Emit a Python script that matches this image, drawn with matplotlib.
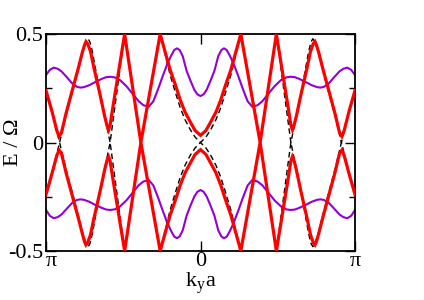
import numpy as np
import matplotlib
matplotlib.use("Agg")
import matplotlib.pyplot as plt

plt.rcParams['font.family'] = ['Liberation Serif', 'DejaVu Serif']
plt.rcParams['mathtext.fontset'] = 'stix'

# k in units of pi, E in units of Omega
red_k = [-1.000, -0.960, -0.930, -0.915, -0.900, -0.870, -0.830, -0.790, -0.765, -0.750, -0.741,
         -0.730, -0.712, -0.690, -0.650, -0.620, -0.605, -0.595, -0.585, -0.570, -0.491, -0.386,
         -0.261, -0.230, -0.196, -0.160, -0.131, -0.100, -0.067, -0.035, 0.000,
         0.035, 0.067, 0.100, 0.131, 0.160, 0.196, 0.230, 0.261, 0.386, 0.491, 0.570, 0.585,
         0.595, 0.605, 0.620, 0.650, 0.690, 0.712, 0.730, 0.741, 0.750, 0.765, 0.790, 0.830,
         0.870, 0.900, 0.915, 0.930, 0.960, 1.000]
red_up = [0.240, 0.140, 0.055, 0.028, 0.045, 0.135, 0.240, 0.345, 0.415, 0.450, 0.465,
          0.455, 0.420, 0.345, 0.220, 0.120, 0.078, 0.058, 0.080, 0.150, 0.500, 0.000,
          0.500, 0.420, 0.334, 0.260, 0.196, 0.140, 0.096, 0.055, 0.033,
          0.055, 0.096, 0.140, 0.196, 0.260, 0.334, 0.420, 0.500, 0.000, 0.500, 0.150, 0.080,
          0.058, 0.078, 0.120, 0.220, 0.345, 0.420, 0.455, 0.465, 0.450, 0.415, 0.345, 0.240,
          0.135, 0.045, 0.028, 0.055, 0.140, 0.240]
red_lo = [-0.240, -0.140, -0.060, -0.035, -0.050, -0.140, -0.245, -0.350, -0.420, -0.458, -0.472,
          -0.462, -0.425, -0.350, -0.225, -0.125, -0.082, -0.065, -0.085, -0.155, -0.500, 0.000,
          -0.500, -0.420, -0.334, -0.260, -0.196, -0.140, -0.096, -0.055, -0.033,
          -0.055, -0.096, -0.140, -0.196, -0.260, -0.334, -0.420, -0.500, 0.000, -0.500, -0.155, -0.085,
          -0.065, -0.082, -0.125, -0.225, -0.350, -0.425, -0.462, -0.472, -0.458, -0.420, -0.350, -0.245,
          -0.140, -0.050, -0.035, -0.060, -0.140, -0.240]

dash_k = [-1.000, -0.960, -0.912, -0.870, -0.830, -0.790, -0.760, -0.740, -0.727, -0.715, -0.700,
          -0.660, -0.620, -0.585, -0.491, -0.386, -0.261, -0.230, -0.196, -0.160, -0.131, -0.100,
          -0.067, -0.035, 0.000,
          0.035, 0.067, 0.100, 0.131, 0.160, 0.196, 0.230, 0.261, 0.386, 0.491, 0.585, 0.620,
          0.660, 0.700, 0.715, 0.727, 0.740, 0.760, 0.790, 0.830, 0.870, 0.912, 0.960, 1.000]
dash_up = [0.240, 0.135, 0.000, 0.125, 0.230, 0.340, 0.425, 0.465, 0.478, 0.462, 0.420,
           0.262, 0.120, 0.000, 0.500, 0.000, 0.500, 0.410, 0.310, 0.225, 0.160, 0.105,
           0.060, 0.025, 0.000,
           0.025, 0.060, 0.105, 0.160, 0.225, 0.310, 0.410, 0.500, 0.000, 0.500, 0.000, 0.120,
           0.262, 0.420, 0.462, 0.478, 0.465, 0.425, 0.340, 0.230, 0.125, 0.000, 0.135, 0.240]
dash_lo = [-0.240, -0.135, 0.000, -0.125, -0.230, -0.340, -0.425, -0.465, -0.480, -0.465, -0.420,
           -0.262, -0.120, 0.000, -0.500, 0.000, -0.500, -0.410, -0.310, -0.225, -0.160, -0.105,
           -0.060, -0.025, 0.000,
           -0.025, -0.060, -0.105, -0.160, -0.225, -0.310, -0.410, -0.500, 0.000, -0.500, 0.000, -0.120,
           -0.262, -0.420, -0.465, -0.480, -0.465, -0.425, -0.340, -0.230, -0.125, 0.000, -0.135, -0.240]

pur_k = [-1.000, -0.975, -0.950, -0.925, -0.900, -0.864, -0.830, -0.800, -0.778, -0.755, -0.720,
         -0.680, -0.640, -0.610, -0.583, -0.555, -0.520, -0.480, -0.440, -0.400, -0.370, -0.335,
         -0.305, -0.275, -0.245, -0.215, -0.190, -0.170, -0.152, -0.135, -0.115, -0.090, -0.065,
         -0.040, -0.020, 0.000,
         0.020, 0.040, 0.065, 0.090, 0.115, 0.135, 0.152, 0.170, 0.190, 0.215, 0.245, 0.275,
         0.305, 0.335, 0.370, 0.400, 0.440, 0.480, 0.520, 0.555, 0.583, 0.610, 0.640, 0.680,
         0.720, 0.755, 0.778, 0.800, 0.830, 0.864, 0.900, 0.925, 0.950, 0.975, 1.000]
pur_up = [0.311, 0.335, 0.345, 0.340, 0.328, 0.300, 0.272, 0.257, 0.253, 0.255, 0.264,
          0.279, 0.293, 0.301, 0.303, 0.300, 0.287, 0.260, 0.225, 0.190, 0.172, 0.165,
          0.190, 0.245, 0.305, 0.362, 0.400, 0.426, 0.434, 0.426, 0.398, 0.330, 0.285,
          0.243, 0.222, 0.214,
          0.222, 0.243, 0.285, 0.330, 0.398, 0.426, 0.434, 0.426, 0.400, 0.362, 0.305, 0.245,
          0.190, 0.165, 0.172, 0.190, 0.225, 0.260, 0.287, 0.300, 0.303, 0.301, 0.293, 0.279,
          0.264, 0.255, 0.253, 0.257, 0.272, 0.300, 0.328, 0.340, 0.345, 0.335, 0.311]
pur_lo = [-0.311, -0.338, -0.349, -0.344, -0.332, -0.304, -0.278, -0.265, -0.262, -0.264, -0.273,
          -0.288, -0.301, -0.309, -0.311, -0.308, -0.294, -0.267, -0.232, -0.197, -0.180, -0.173,
          -0.198, -0.253, -0.313, -0.370, -0.408, -0.434, -0.441, -0.433, -0.405, -0.337, -0.291,
          -0.249, -0.227, -0.219,
          -0.227, -0.249, -0.291, -0.337, -0.405, -0.433, -0.441, -0.434, -0.408, -0.370, -0.313, -0.253,
          -0.198, -0.173, -0.180, -0.197, -0.232, -0.267, -0.294, -0.308, -0.311, -0.309, -0.301, -0.288,
          -0.273, -0.264, -0.262, -0.265, -0.278, -0.304, -0.332, -0.344, -0.349, -0.338, -0.311]

xticks = [-np.pi, 0, np.pi]
xticklabels = ['π', '0', 'π']
yticks = [-0.5, 0, 0.5]
yticklabels = ['-0.5', '0', '0.5']

fig = plt.figure(figsize=(4.24, 3.0), dpi=100)
ax = fig.add_axes([46/424, 1-251/300, 309/424, 217/300])

kr = np.array(red_k) * np.pi
kd = np.array(dash_k) * np.pi
kp = np.array(pur_k) * np.pi

ax.plot(kp, pur_up, color='#9400d3', lw=1.5, zorder=2)
ax.plot(kp, pur_lo, color='#9400d3', lw=1.5, zorder=2)
ax.plot(kd, dash_up, color='black', lw=1.0, ls=(0, (4, 2.5)), zorder=2.5)
ax.plot(kd, dash_lo, color='black', lw=1.0, ls=(0, (4, 2.5)), zorder=2.5)
ax.plot(kr, red_up, color='#ff0000', lw=2.3, zorder=3, solid_joinstyle='miter')
ax.plot(kr, red_lo, color='#ff0000', lw=2.3, zorder=3, solid_joinstyle='miter')
ax.set_xlim(-np.pi, np.pi)
ax.set_ylim(-0.5, 0.5)

ax.set_xticks(xticks)
ax.set_xticklabels(xticklabels)
ax.set_yticks(yticks)
ax.set_yticklabels(yticklabels)
ax.set_yticks([-0.25, 0.25], minor=True)
ax.tick_params(which='both', direction='in', top=True, right=True, labelsize=16, width=1.0)
ax.tick_params(which='major', length=7)
ax.tick_params(axis='y', which='major', pad=2)
ax.tick_params(axis='x', which='major', pad=1)
ax.tick_params(which='minor', length=4)
ax.get_xticklabels()[0].set_horizontalalignment('left')
for s in ax.spines.values():
    s.set_linewidth(1.3)

ax.set_xlabel(r'k$_\mathregular{y}$a', fontsize=16)
ax.xaxis.set_label_coords(0.5, -0.088)
ax.set_ylabel('E / Ω', fontsize=16)
ax.yaxis.set_label_coords(-0.075, 0.5)

fig.savefig('out.png', dpi=100)
